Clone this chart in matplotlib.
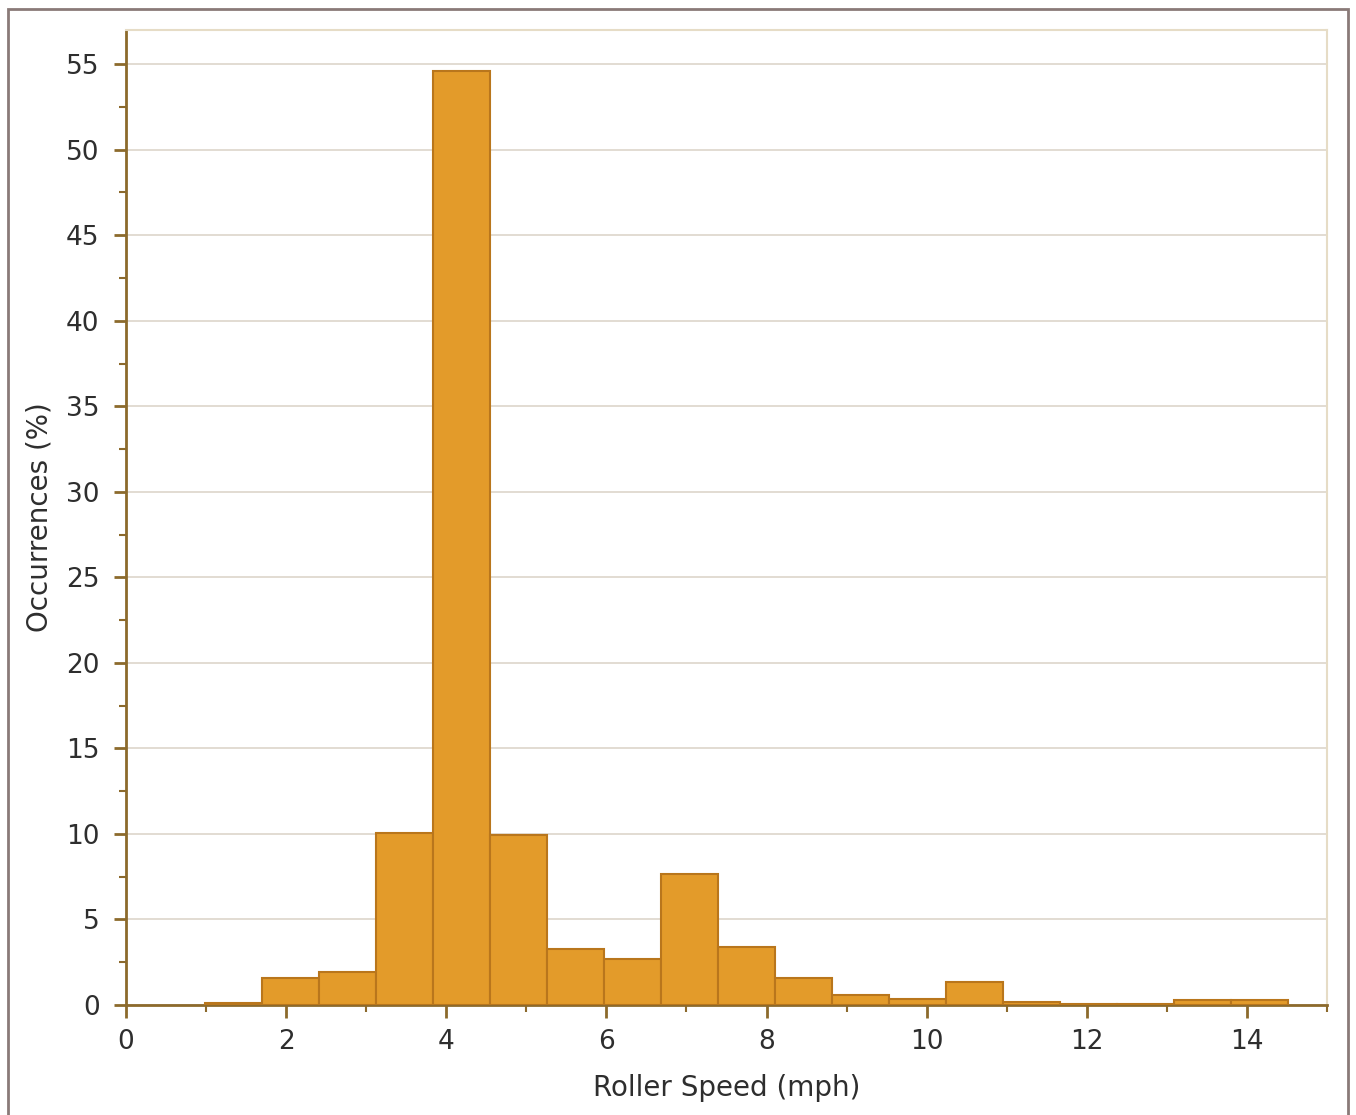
import numpy as np
import matplotlib
matplotlib.use("Agg")
import matplotlib.pyplot as plt
from matplotlib.patches import Rectangle
from matplotlib.ticker import MultipleLocator

# histogram bins (mph) and occurrence share (%)
bin_edges = [0.99, 1.70, 2.41, 3.12, 3.84, 4.55, 5.26, 5.97, 6.68, 7.40,
             8.11, 8.82, 9.53, 10.24, 10.95, 11.67, 12.38, 13.09, 13.80, 14.51]
occurrences = [0.12, 1.6, 1.9, 10.05, 54.6, 9.95, 3.3, 2.7, 7.65, 3.4,
               1.6, 0.58, 0.35, 1.36, 0.15, 0.08, 0.08, 0.27, 0.27]
x_ticks = [0, 2, 4, 6, 8, 10, 12, 14]
y_ticks = [0, 5, 10, 15, 20, 25, 30, 35, 40, 45, 50, 55]

axis_col = "#8C6A2C"
text_col = "#2e2e2e"

fig = plt.figure(figsize=(13.56, 11.15), dpi=100)
ax = fig.add_axes([0.0929, 0.0987, 0.8857, 0.8744])

# outer frame around the whole figure
fig.patches.append(Rectangle((0.006, -0.01), 0.988, 1.002, transform=fig.transFigure,
                             fill=False, edgecolor="#8a7a78", linewidth=2))

edges = np.array(bin_edges)
ax.bar(edges[:-1], occurrences, width=np.diff(edges), align="edge",
       color="#E39B2A", edgecolor="#B9761C", linewidth=1.5, zorder=3)

ax.set_xlim(0, 15)
ax.set_ylim(0, 57)
ax.set_xticks(x_ticks)
ax.set_yticks(y_ticks)
ax.xaxis.set_minor_locator(MultipleLocator(1))
ax.yaxis.set_minor_locator(MultipleLocator(2.5))
ax.grid(axis="y", which="major", color="#dfd9cf", linewidth=1.3, zorder=0)

for side in ["left", "bottom"]:
    ax.spines[side].set_color(axis_col)
    ax.spines[side].set_linewidth(2)
for side in ["top", "right"]:
    ax.spines[side].set_color("#e6dcc6")
    ax.spines[side].set_linewidth(1.5)

ax.tick_params(axis="both", which="major", length=9, width=2, color=axis_col,
               labelsize=19, labelcolor=text_col)
ax.tick_params(axis="x", which="major", pad=8)
ax.tick_params(axis="y", which="major", pad=10)
ax.tick_params(axis="both", which="minor", length=5, width=1.5, color=axis_col)

ax.set_xlabel("Roller Speed (mph)", fontsize=20, color=text_col, labelpad=14)
ax.set_ylabel("Occurrences (%)", fontsize=20, color=text_col, labelpad=9)

fig.savefig("out.png", dpi=100, facecolor="white")
